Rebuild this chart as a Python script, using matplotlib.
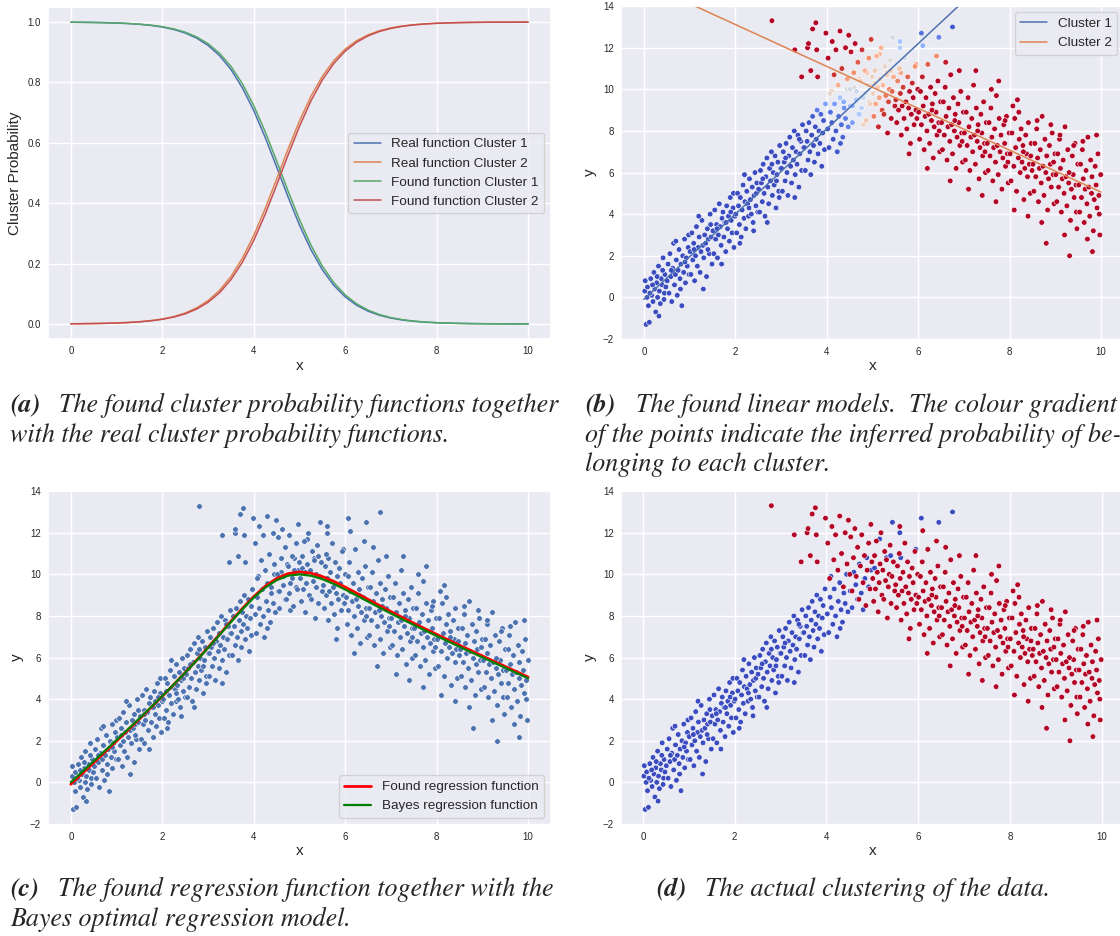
import numpy as np
import matplotlib
matplotlib.use('Agg')
import matplotlib.pyplot as plt
import seaborn as sns

sns.set_theme(style='darkgrid')
plt.rcParams['font.family'] = ['Liberation Sans', 'DejaVu Sans']

# cluster probability functions, x = 0, 0.25, ..., 10
grid_x = np.linspace(0, 10, 41)
real_p1 = [0.9993, 0.9990, 0.9985, 0.9977, 0.9966, 0.9949, 0.9925, 0.9888, 0.9834, 0.9754,
           0.9637, 0.9468, 0.9227, 0.8889, 0.8429, 0.7824, 0.7068, 0.6177, 0.5200, 0.4207,
           0.3274, 0.2460, 0.1795, 0.1279, 0.0895, 0.0618, 0.0423, 0.0288, 0.0195, 0.0131,
           0.0088, 0.0059, 0.0040, 0.0027, 0.0018, 0.0012, 0.0008, 0.0005, 0.0004, 0.0002, 0.0002]
found_p1 = [0.9994, 0.9991, 0.9986, 0.9979, 0.9969, 0.9953, 0.9930, 0.9896, 0.9846, 0.9772,
            0.9664, 0.9507, 0.9282, 0.8966, 0.8532, 0.7958, 0.7231, 0.6365, 0.5399, 0.4403,
            0.3452, 0.2611, 0.1915, 0.1371, 0.0962, 0.0667, 0.0457, 0.0311, 0.0210, 0.0142,
            0.0096, 0.0064, 0.0043, 0.0029, 0.0020, 0.0013, 0.0009, 0.0006, 0.0004, 0.0003, 0.0002]

# linear models (slope, intercept)
real_line1 = (2.0, 0.0)
real_line2 = (-1.0, 15.0)
found_line1 = (2.05, -0.1)
found_line2 = (-1.007, 15.13)
found_sd1, found_sd2 = 0.8, 1.25

# data points, cluster 1 (blue) and cluster 2 (red)
c1_pts = [
    (0.02, 0.3), (0.05, -1.3), (0.08, 0.5), (0.1, -0.4), (0.12, -1.2), (0.15, 0.9), (0.17, 0.1), (0.2, -0.2),
    (0.22, 1.2), (0.24, 0.4), (0.26, -0.7), (0.28, 0.7), (0.3, 0.0), (0.32, 1.5), (0.34, 0.3), (0.36, -0.3),
    (0.38, 0.9), (0.4, 0.6), (0.42, 1.9), (0.44, -0.1), (0.46, 1.1), (0.48, 0.5), (0.03, 0.8), (0.19, 0.6),
    (0.33, -0.9), (0.45, 0.2), (0.07, 0.0), (0.29, 1.0), (0.41, 1.3), (0.13, 0.2),
    (0.51, 0.8), (0.53, 1.6), (0.55, 0.2), (0.57, 2.1), (0.59, 1.0), (0.61, -0.2), (0.63, 1.4), (0.65, 2.6),
    (0.67, 0.6), (0.69, 1.1), (0.71, 1.8), (0.73, 0.1), (0.75, 1.3), (0.77, 2.3), (0.79, 0.9), (0.81, 1.6),
    (0.83, -0.4), (0.85, 2.0), (0.87, 1.2), (0.89, 2.8), (0.91, 0.7), (0.93, 1.9), (0.95, 1.5), (0.97, 2.4),
    (0.99, 1.1), (0.6, 1.3), (0.7, 2.7), (0.8, 0.4), (0.9, 1.7), (0.98, 3.0),
    (1.01, 2.2), (1.03, 1.1), (1.05, 3.1), (1.07, 1.8), (1.09, 2.6), (1.11, 0.8), (1.13, 2.0), (1.15, 3.4),
    (1.17, 1.5), (1.19, 2.4), (1.21, 2.9), (1.23, 1.2), (1.25, 2.2), (1.27, 3.7), (1.29, 2.5), (1.31, 1.9),
    (1.33, 3.0), (1.35, 2.6), (1.37, 1.0), (1.39, 3.3), (1.41, 2.8), (1.43, 2.1), (1.45, 4.0), (1.47, 2.9),
    (1.49, 1.6), (1.1, 2.3), (1.2, 3.9), (1.3, 0.4), (1.4, 2.3), (1.46, 3.5),
    (1.51, 3.2), (1.53, 2.1), (1.55, 4.2), (1.57, 2.8), (1.59, 3.5), (1.61, 1.9), (1.63, 3.0), (1.65, 4.5),
    (1.67, 3.4), (1.69, 2.5), (1.71, 3.8), (1.73, 4.1), (1.75, 2.9), (1.77, 3.6), (1.79, 2.2), (1.81, 4.4),
    (1.83, 3.3), (1.85, 3.9), (1.87, 2.7), (1.89, 4.8), (1.91, 3.7), (1.93, 3.1), (1.95, 4.3), (1.97, 2.4),
    (1.99, 3.9), (1.6, 3.3), (1.7, 1.6), (1.8, 3.6), (1.9, 4.1), (1.96, 5.0),
    (2.01, 4.0), (2.03, 3.1), (2.05, 5.0), (2.07, 4.4), (2.09, 3.5), (2.11, 4.8), (2.13, 2.9), (2.15, 4.2),
    (2.17, 5.4), (2.19, 3.8), (2.21, 4.6), (2.23, 3.3), (2.25, 5.1), (2.27, 4.5), (2.29, 3.9), (2.31, 5.7),
    (2.33, 4.7), (2.35, 4.0), (2.37, 5.3), (2.39, 3.6), (2.41, 4.9), (2.43, 6.0), (2.45, 4.4), (2.47, 5.5),
    (2.49, 4.1), (2.1, 2.6), (2.2, 5.9), (2.3, 4.3), (2.4, 3.2), (2.46, 5.0),
    (2.51, 5.2), (2.53, 4.1), (2.55, 6.1), (2.57, 5.5), (2.59, 4.6), (2.61, 6.4), (2.63, 5.0), (2.65, 3.9),
    (2.67, 5.8), (2.69, 6.7), (2.71, 5.3), (2.73, 4.5), (2.75, 6.2), (2.77, 5.6), (2.79, 7.0), (2.81, 4.9),
    (2.83, 6.0), (2.85, 5.4), (2.87, 6.8), (2.89, 4.3), (2.91, 5.9), (2.93, 6.5), (2.95, 5.1), (2.97, 7.3),
    (2.99, 6.2), (2.6, 5.7), (2.7, 3.6), (2.8, 6.4), (2.9, 5.6), (2.96, 4.8),
    (3.01, 6.2), (3.03, 5.1), (3.05, 7.0), (3.07, 6.5), (3.09, 5.6), (3.11, 7.4), (3.13, 6.0), (3.15, 4.9),
    (3.17, 6.8), (3.19, 7.7), (3.21, 6.3), (3.23, 5.5), (3.25, 7.2), (3.27, 6.6), (3.29, 8.0), (3.31, 5.9),
    (3.33, 7.0), (3.35, 6.4), (3.37, 7.8), (3.39, 5.3), (3.41, 6.9), (3.43, 7.5), (3.45, 6.1), (3.47, 8.3),
    (3.49, 7.2), (3.1, 6.7), (3.3, 4.8), (3.4, 7.6),
    (3.51, 7.2), (3.53, 6.1), (3.55, 8.0), (3.57, 7.5), (3.59, 6.6), (3.61, 8.4), (3.63, 7.0), (3.65, 5.9),
    (3.67, 7.8), (3.69, 8.7), (3.71, 7.3), (3.73, 6.5), (3.75, 8.2), (3.77, 7.6), (3.79, 9.0), (3.81, 6.9),
    (3.83, 8.0), (3.85, 7.4), (3.87, 8.8), (3.89, 6.3), (3.91, 7.9), (3.93, 8.5), (3.95, 7.1), (3.97, 9.3),
    (4.02, 8.1), (4.05, 7.2), (4.08, 8.9), (4.11, 8.4), (4.14, 7.6), (4.17, 9.3), (4.2, 8.0), (4.23, 7.0),
    (4.26, 8.7), (4.29, 9.6), (4.32, 8.3), (4.35, 7.7), (4.38, 9.1), (4.41, 8.6), (4.44, 10.0), (4.47, 8.2),
    (4.1, 9.9), (4.3, 7.4),
    (4.52, 9.2), (4.56, 8.4), (4.6, 10.1), (4.64, 9.5), (4.68, 8.8), (4.72, 10.5), (4.76, 9.1), (4.8, 8.3),
    (4.84, 9.8), (4.88, 10.8), (4.92, 9.4), (4.97, 10.2),
    (5.05, 10.3), (5.15, 9.6), (5.16, 11.7), (5.31, 10.8), (5.4, 10.9), (5.44, 12.5),
    (5.6, 12.0), (5.62, 10.8), (5.95, 11.2), (6.07, 12.7), (6.45, 12.5), (6.75, 13.0),
]
c2_pts = [
    (2.8, 13.3), (3.3, 11.9), (3.45, 10.6),
    (3.58, 12.0), (3.6, 12.2), (3.65, 10.9), (3.69, 12.9), (3.76, 13.2), (3.78, 11.9), (3.8, 10.6), (3.98, 12.7),
    (4.03, 11.5), (4.07, 9.8), (4.12, 12.3), (4.16, 10.7), (4.2, 11.9), (4.25, 10.2), (4.29, 12.8), (4.33, 11.0),
    (4.37, 9.4), (4.41, 12.0), (4.45, 10.5), (4.48, 12.6),
    (4.51, 10.0), (4.53, 11.8), (4.56, 9.2), (4.59, 10.8), (4.62, 12.2), (4.65, 9.9), (4.68, 11.3), (4.71, 8.8),
    (4.74, 10.4), (4.77, 11.9), (4.8, 9.6), (4.83, 10.9), (4.86, 8.5), (4.89, 10.2), (4.92, 11.5), (4.95, 9.3),
    (4.97, 12.4), (4.99, 10.6),
    (5.01, 9.8), (5.03, 8.7), (5.05, 10.9), (5.07, 9.3), (5.09, 11.6), (5.11, 10.1), (5.13, 8.2), (5.15, 9.6),
    (5.17, 10.5), (5.19, 12.0), (5.21, 9.0), (5.23, 10.2), (5.25, 8.8), (5.27, 11.1), (5.29, 9.7), (5.31, 10.7),
    (5.33, 7.9), (5.35, 9.4), (5.37, 10.0), (5.39, 11.4), (5.41, 8.6), (5.43, 9.9), (5.46, 10.6), (5.49, 9.2),
    (5.51, 9.5), (5.53, 8.4), (5.55, 10.4), (5.57, 9.0), (5.59, 11.0), (5.61, 9.8), (5.63, 7.8), (5.65, 9.2),
    (5.67, 10.1), (5.69, 8.6), (5.71, 11.5), (5.73, 9.4), (5.75, 8.1), (5.77, 10.6), (5.79, 9.1), (5.81, 9.9),
    (5.83, 7.4), (5.85, 8.8), (5.87, 10.3), (5.89, 9.6), (5.91, 8.3), (5.93, 11.1), (5.95, 9.0), (5.97, 8.6),
    (5.99, 10.0), (5.6, 12.3), (5.8, 6.9),
    (6.01, 8.9), (6.03, 7.6), (6.05, 9.9), (6.07, 8.3), (6.09, 10.6), (6.11, 9.2), (6.13, 7.1), (6.15, 8.7),
    (6.17, 9.6), (6.19, 8.0), (6.21, 11.2), (6.23, 8.8), (6.25, 7.4), (6.27, 10.1), (6.29, 8.5), (6.31, 9.3),
    (6.33, 6.7), (6.35, 8.2), (6.37, 9.8), (6.39, 8.9), (6.41, 7.8), (6.43, 10.4), (6.45, 8.4), (6.47, 7.0),
    (6.49, 9.4), (6.1, 12.1), (6.2, 6.2), (6.3, 9.0), (6.4, 11.6), (6.46, 8.0),
    (6.51, 8.4), (6.53, 7.1), (6.55, 9.4), (6.57, 7.8), (6.59, 10.1), (6.61, 8.7), (6.63, 6.6), (6.65, 8.2),
    (6.67, 9.1), (6.69, 7.5), (6.71, 10.7), (6.73, 8.3), (6.75, 6.9), (6.77, 9.6), (6.79, 8.0), (6.81, 8.8),
    (6.83, 6.2), (6.85, 7.7), (6.87, 9.3), (6.89, 8.4), (6.91, 7.3), (6.93, 9.9), (6.95, 7.9), (6.97, 6.5),
    (6.99, 8.9), (6.6, 11.3), (6.7, 5.6), (6.8, 8.5), (6.9, 10.9), (6.96, 7.5),
    (7.01, 7.9), (7.03, 6.6), (7.05, 8.9), (7.07, 7.3), (7.09, 9.6), (7.11, 8.2), (7.13, 6.1), (7.15, 7.7),
    (7.17, 8.6), (7.19, 7.0), (7.21, 10.2), (7.23, 7.8), (7.25, 6.4), (7.27, 9.1), (7.29, 7.5), (7.31, 8.3),
    (7.33, 5.7), (7.35, 7.2), (7.37, 8.8), (7.39, 7.9), (7.41, 6.8), (7.43, 9.4), (7.45, 7.4), (7.47, 6.0),
    (7.49, 8.4), (7.1, 5.2), (7.26, 10.9), (7.3, 8.0), (7.4, 4.9), (7.46, 7.0),
    (7.51, 7.4), (7.53, 6.1), (7.55, 8.4), (7.57, 6.8), (7.59, 9.1), (7.61, 7.7), (7.63, 5.6), (7.65, 7.2),
    (7.67, 8.1), (7.69, 6.5), (7.71, 9.7), (7.73, 7.3), (7.75, 5.9), (7.77, 8.6), (7.79, 7.0), (7.81, 7.8),
    (7.83, 5.2), (7.85, 6.7), (7.87, 8.3), (7.89, 7.4), (7.91, 6.3), (7.93, 8.7), (7.95, 6.9), (7.97, 5.5),
    (7.99, 7.9), (7.6, 10.0), (7.7, 4.6), (7.76, 10.4), (7.9, 8.5), (7.96, 6.5),
    (8.01, 6.9), (8.03, 5.6), (8.05, 7.9), (8.07, 9.2), (8.09, 6.3), (8.11, 8.6), (8.13, 7.2), (8.15, 5.1),
    (8.17, 9.5), (8.19, 6.7), (8.21, 7.6), (8.23, 6.0), (8.25, 8.1), (8.27, 6.5), (8.29, 7.3), (8.31, 4.7),
    (8.33, 6.2), (8.35, 7.8), (8.37, 6.9), (8.39, 5.8), (8.41, 8.4), (8.43, 6.4), (8.45, 5.0), (8.47, 7.4),
    (8.49, 6.1), (8.1, 4.2), (8.2, 8.9), (8.3, 7.0), (8.4, 3.9), (8.46, 6.8),
    (8.51, 6.4), (8.53, 5.1), (8.55, 7.4), (8.57, 5.8), (8.59, 8.1), (8.61, 6.7), (8.63, 4.6), (8.65, 6.2),
    (8.67, 7.1), (8.69, 5.5), (8.71, 8.7), (8.73, 6.3), (8.75, 4.9), (8.77, 7.6), (8.79, 6.0), (8.81, 6.8),
    (8.83, 4.2), (8.85, 5.7), (8.87, 7.3), (8.89, 6.4), (8.91, 5.3), (8.93, 7.9), (8.95, 5.9), (8.97, 4.5),
    (8.99, 6.9), (8.6, 8.5), (8.7, 3.6), (8.8, 2.6), (8.9, 8.3), (8.96, 6.5),
    (9.01, 5.9), (9.03, 4.6), (9.05, 6.9), (9.07, 5.3), (9.09, 7.6), (9.11, 6.2), (9.13, 4.1), (9.15, 5.7),
    (9.17, 6.6), (9.19, 5.0), (9.21, 8.2), (9.23, 5.8), (9.25, 4.4), (9.27, 7.1), (9.29, 5.5), (9.31, 2.0),
    (9.33, 3.7), (9.35, 5.2), (9.37, 6.8), (9.39, 5.9), (9.41, 4.8), (9.43, 7.4), (9.45, 5.4), (9.47, 3.3),
    (9.49, 6.4), (9.1, 7.8), (9.2, 3.0), (9.3, 6.0), (9.4, 7.3), (9.46, 4.1),
    (9.51, 5.4), (9.53, 4.1), (9.55, 6.4), (9.57, 4.8), (9.59, 7.1), (9.61, 5.7), (9.63, 3.6), (9.65, 5.2),
    (9.67, 6.1), (9.69, 4.5), (9.71, 7.7), (9.73, 5.3), (9.75, 3.9), (9.77, 6.6), (9.79, 5.0), (9.81, 2.2),
    (9.83, 3.2), (9.85, 4.7), (9.87, 6.3), (9.89, 5.4), (9.91, 4.3), (9.93, 6.9), (9.95, 4.9), (9.97, 3.0),
    (9.99, 5.9), (9.6, 7.5), (9.7, 2.8), (9.8, 5.8), (9.9, 7.8), (9.96, 4.0),
]

c1 = np.array(c1_pts)
c2 = np.array(c2_pts)
pts = np.vstack([c1, c2])
px, py = pts[:, 0], pts[:, 1]
labels = np.r_[np.zeros(len(c1)), np.ones(len(c2))]

real_p1 = np.array(real_p1)
found_p1 = np.array(found_p1)

# inferred probability of belonging to cluster 2 (panel b colours)
g1 = np.interp(px, grid_x, found_p1)
l1 = np.exp(-(py - (found_line1[0] * px + found_line1[1])) ** 2 / (2 * found_sd1 ** 2)) / found_sd1
l2 = np.exp(-(py - (found_line2[0] * px + found_line2[1])) ** 2 / (2 * found_sd2 ** 2)) / found_sd2
post2 = (1 - g1) * l2 / (g1 * l1 + (1 - g1) * l2)

blue, orange, green, red = '#4c72b0', '#dd8452', '#55a868', '#c44e52'

fig = plt.figure(figsize=(11.2, 9.36), dpi=100)
W, H = 1120, 936


def add_ax(l, t, r, b):
    return fig.add_axes([l / W, 1 - b / H, (r - l) / W, (b - t) / H])


def style(ax, ylabel):
    ax.set_xlabel('x', fontsize=11, labelpad=2)
    ax.set_ylabel(ylabel, fontsize=11, labelpad=4)
    ax.tick_params(labelsize=7, length=0, pad=5)
    ax.set_xticks([0, 2, 4, 6, 8, 10])


# (a) cluster probability functions
ax_a = add_ax(48, 7, 551, 339)
ax_a.plot(grid_x, real_p1, color=blue, lw=1.1, label='Real function Cluster 1')
ax_a.plot(grid_x, 1 - real_p1, color=orange, lw=1.1, label='Real function Cluster 2')
ax_a.plot(grid_x, found_p1, color=green, lw=1.1, label='Found function Cluster 1')
ax_a.plot(grid_x, 1 - found_p1, color=red, lw=1.1, label='Found function Cluster 2')
ax_a.legend(loc='center right', fontsize=9.7)
style(ax_a, 'Cluster Probability')

# (b) linear models with probability colours
ax_b = add_ax(621, 5.5, 1124, 339.6)
ax_b.scatter(px, py, c=post2, cmap='coolwarm', vmin=0, vmax=1, s=16, edgecolor='white', linewidth=0.4)
ylim = ax_b.get_ylim()
lx = np.array([0, 10])
ax_b.plot(lx, found_line1[0] * lx + found_line1[1], color=blue, lw=1.1, label='Cluster 1')
ax_b.plot(lx, found_line2[0] * lx + found_line2[1], color=orange, lw=1.1, label='Cluster 2')
ax_b.set_ylim(ylim)
ax_b.legend(loc='upper right', fontsize=9.7)
style(ax_b, 'y')

# (c) regression functions
ax_c = add_ax(48, 490.5, 551, 824.6)
ax_c.scatter(px, py, color=blue, s=16, edgecolor='white', linewidth=0.4)
found_reg = found_p1 * (found_line1[0] * grid_x + found_line1[1]) + (1 - found_p1) * (found_line2[0] * grid_x + found_line2[1])
bayes_reg = real_p1 * (real_line1[0] * grid_x + real_line1[1]) + (1 - real_p1) * (real_line2[0] * grid_x + real_line2[1])
ax_c.plot(grid_x, found_reg, color='red', lw=2, label='Found regression function')
ax_c.plot(grid_x, bayes_reg, color='green', lw=1.6, label='Bayes regression function')
ax_c.legend(loc='lower right', fontsize=9.7)
style(ax_c, 'y')

# (d) actual clustering
ax_d = add_ax(621, 490.5, 1124, 824.6)
ax_d.scatter(px, py, c=labels, cmap='coolwarm', vmin=0, vmax=1, s=16, edgecolor='white', linewidth=0.4)
style(ax_d, 'y')

# captions
cap_size = 18.7


def caption(x0, x1, ybase, tag, lines):
    fig.text(x0 / W, 1 - ybase[0] / H, tag, fontfamily='STIXGeneral', fontstyle='italic',
             fontweight='bold', fontsize=cap_size, va='baseline')
    for i, line in enumerate(lines):
        xs = x1 if i == 0 else x0
        fig.text(xs / W, 1 - ybase[i] / H, line, fontfamily='STIXGeneral', fontstyle='italic',
                 fontsize=cap_size, va='baseline')


caption(10, 59, [412, 441.5], '(a)',
        ['The found cluster probability functions together',
         'with the real cluster probability functions.'])
caption(585, 636, [412, 441.5, 471], '(b)',
        ['The found linear models.  The colour gradient',
         'of the points indicate the inferred probability of be-',
         'longing to each cluster.'])
caption(10, 58, [896, 925.5], '(c)',
        ['The found regression function together with the',
         'Bayes optimal regression model.'])
caption(656, 705, [896], '(d)', ['The actual clustering of the data.'])

fig.savefig('out.png', dpi=100)
